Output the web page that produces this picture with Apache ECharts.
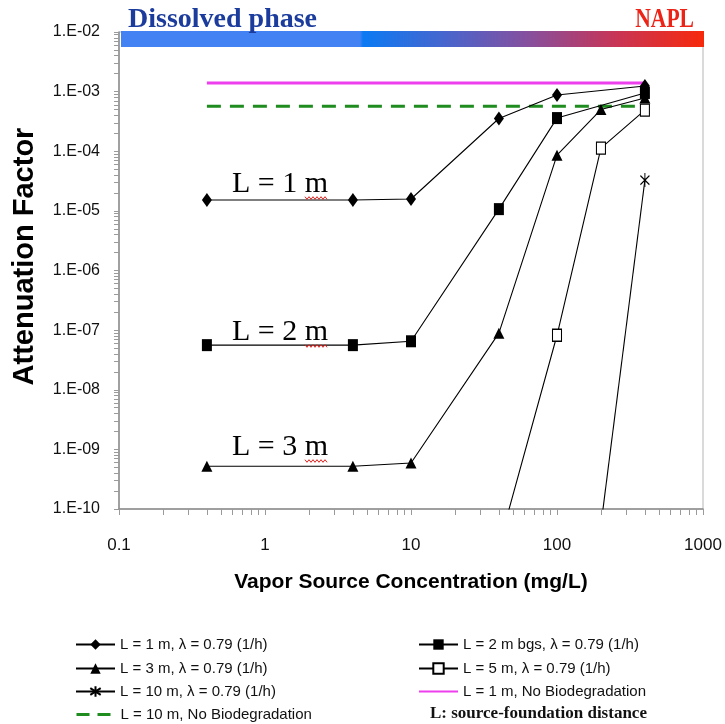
<!DOCTYPE html>
<html><head><meta charset="utf-8">
<script src="https://cdn.jsdelivr.net/npm/echarts@6/dist/echarts.min.js"></script>
<style>html,body{margin:0;padding:0;background:#fff}#c{width:725px;height:724px}</style>
</head><body><div id="c"></div>
<script>
// ---- data ----
const xConc = [0.4, 4, 10, 40, 100, 400];
const afL1 = [1.52e-5, 1.52e-5, 1.58e-5, 3.54e-4, 8.77e-4, 1.24e-3];
const afL2 = [5.6e-8, 5.6e-8, 6.5e-8, 1.07e-5, 3.6e-4, 9.5e-4];
const xConc3 = [0.4, 4, 10, 40, 100, 200, 400];
const afL3 = [5.2e-10, 5.2e-10, 5.9e-10, 8.9e-8, 8.6e-5, 5.0e-4, 7.8e-4];
const xConc5 = [40, 100, 200, 400];
const afL5 = [2.4e-11, 8.2e-8, 1.13e-4, 4.9e-4];
const xConc10 = [200, 400];
const afL10 = [5.4e-11, 3.29e-5];
const xNoBio = [0.4, 400];
const afNoBio1 = [1.39e-3, 1.39e-3];
const afNoBio10 = [5.7e-4, 5.7e-4];
const seriesNames = ['L = 1 m, λ = 0.79 (1/h)', 'L = 2 m bgs, λ = 0.79 (1/h)', 'L = 3 m, λ = 0.79 (1/h)',
  'L = 5 m, λ = 0.79 (1/h)', 'L = 10 m, λ = 0.79 (1/h)', 'L = 1 m, No Biodegradation', 'L = 10 m, No Biodegradation'];
const xTickValues = [0.1, 1, 10, 100, 1000];
const xTickLabels = ['0.1', '1', '10', '100', '1000'];
const yTickValues = [1e-10, 1e-9, 1e-8, 1e-7, 1e-6, 1e-5, 1e-4, 1e-3, 1e-2];
const yTickLabels = ['1.E-10', '1.E-09', '1.E-08', '1.E-07', '1.E-06', '1.E-05', '1.E-04', '1.E-03', '1.E-02'];
const curveLabels = ['L = 1 m', 'L = 2 m', 'L = 3 m'];

// ---- helpers ----
const zip = (xs, ys) => xs.map((x, i) => [x, ys[i]]);
function minorTicks(majors) {
  const out = [];
  majors.forEach((m, i) => {
    if (i === majors.length - 1) { out.push(m); return; }
    for (let k = 1; k < 10; k++) out.push(m * k);
  });
  return out;
}
const serif = '"Liberation Serif","DejaVu Serif",serif';
const sans = '"Liberation Sans",Arial,sans-serif';

const G = { left: 119, right: 22, top: 32, bottom: 215 };
const asterisk = 'path://M5,0 L5,14 M0,2.5 L10,11.5 M10,2.5 L0,11.5';

function blackSeries(name, data, symbol, size, extra) {
  return Object.assign({
    name, type: 'line', data, symbol, symbolSize: size, showSymbol: true,
    lineStyle: { color: '#000', width: 1.1 },
    itemStyle: { color: '#000', borderColor: '#000', borderWidth: 0 },
    z: 5
  }, extra || {});
}

// legend rows: [seriesIndexInNames, left, rowCenterY]
const legendRows = [[0, 75, 643], [2, 75, 667], [4, 75, 690], [6, 75, 713], [1, 418, 643], [3, 418, 667], [5, 418, 690]];
const legends = legendRows.map(([si, left, cy]) => {
  let item = seriesNames[si];
  if (si === 5) item = { name: item, itemStyle: { opacity: 0 } };
  if (si === 6) item = { name: item, itemStyle: { opacity: 0 }, lineStyle: { type: [13, 8], width: 3, color: '#1f8c1f' } };
  return { orient: 'horizontal', left, top: cy - 6, padding: 0, itemWidth: 39, itemHeight: 13, data: [item],
    textStyle: { fontFamily: sans, fontSize: 15, color: '#111' } };
});

const chart = echarts.init(document.getElementById('c'), null, { renderer: 'canvas' });

const squiggle = (x0, x1, y) => {
  const pts = [];
  for (let x = x0, i = 0; x <= x1; x += 2, i++) pts.push([x, y + (i % 2 ? 1.3 : -1.3)]);
  return pts;
};

const labelText = (txt, x, y) => ({ type: 'text', x, y, z: 11, style: { text: txt, font: '30px ' + serif, fill: '#000', textAlign: 'center', textVerticalAlign: 'middle' } });
const squig = (x0, x1, y) => ({ type: 'polyline', z: 11, shape: { points: squiggle(x0, x1, y) }, style: { stroke: '#e0201a', lineWidth: 1, fill: null } });

const option = {
  animation: false,
  backgroundColor: '#fff',
  grid: { left: G.left, right: G.right, top: G.top, bottom: G.bottom, show: true, borderColor: '#b5b5b5', borderWidth: 1, backgroundColor: 'transparent' },
  xAxis: {
    type: 'log', logBase: 10, min: 0.1, max: 1000,
    axisLine: { lineStyle: { color: '#8c8c8c', width: 1.5 } },
    axisTick: { show: true, inside: false, length: 6, lineStyle: { color: '#9a9a9a' }, customValues: minorTicks(xTickValues) },
    axisLabel: { customValues: xTickValues, formatter: v => xTickLabels[xTickValues.findIndex(t => Math.abs(Math.log10(t) - Math.log10(v)) < 1e-6)] ?? '',
      fontFamily: sans, fontSize: 17, color: '#111', margin: 28 },
    splitLine: { show: false },
    name: 'Vapor Source Concentration (mg/L)', nameLocation: 'middle', nameGap: 63,
    nameTextStyle: { fontFamily: sans, fontWeight: 'bold', fontSize: 21, color: '#000' }
  },
  yAxis: {
    type: 'log', logBase: 10, min: 1e-10, max: 1e-2,
    axisLine: { lineStyle: { color: '#8c8c8c', width: 1.5 } },
    axisTick: { show: true, inside: false, length: 5, lineStyle: { color: '#9a9a9a' }, customValues: minorTicks(yTickValues) },
    axisLabel: { customValues: yTickValues, formatter: v => yTickLabels[Math.round(Math.log10(v)) + 10] ?? '',
      fontFamily: sans, fontSize: 16, color: '#111', margin: 19 },
    splitLine: { show: false },
    name: 'Attenuation Factor', nameLocation: 'middle', nameGap: 80, nameRotate: 90,
    nameTextStyle: { fontFamily: sans, fontWeight: 'bold', fontSize: 29, color: '#000', padding: [0, 0, 0, 28] }
  },
  legend: legends,
  series: [
    { name: seriesNames[5], type: 'line', data: zip(xNoBio, afNoBio1), symbol: 'none', lineStyle: { color: '#ee3fee', width: 3 }, itemStyle: { color: '#ee3fee' }, z: 3 },
    { name: seriesNames[6], type: 'line', data: zip(xNoBio, afNoBio10), symbol: 'none', lineStyle: { color: '#1f8c1f', width: 3, type: [14, 9] }, itemStyle: { color: '#1f8c1f' }, z: 3 },
    blackSeries(seriesNames[0], zip(xConc, afL1), 'diamond', [10, 14]),
    blackSeries(seriesNames[1], zip(xConc, afL2), 'rect', [10, 12]),
    blackSeries(seriesNames[2], zip(xConc3, afL3), 'triangle', [11, 11]),
    blackSeries(seriesNames[3], zip(xConc5, afL5), 'rect', [9, 12], { itemStyle: { color: '#fff', borderColor: '#000', borderWidth: 1.2 } }),
    blackSeries(seriesNames[4], zip(xConc10, afL10), asterisk, [9, 14], { itemStyle: { color: '#000', borderColor: '#000', borderWidth: 1.2 } })
  ],
  graphic: [
    { type: 'rect', left: 121, top: 31, shape: { width: 583, height: 16 }, z: 10,
      style: { fill: new echarts.graphic.LinearGradient(0, 0, 1, 0, [
        { offset: 0, color: '#4282f3' }, { offset: 0.41, color: '#4282f3' }, { offset: 0.415, color: '#0b7af3' },
        { offset: 0.55, color: '#4566cf' }, { offset: 0.7, color: '#874f9d' }, { offset: 0.85, color: '#c83555' }, { offset: 1, color: '#f7290c' }]) } },
    { type: 'text', x: 128, y: 20, z: 11, style: { text: 'Dissolved phase', font: 'bold 28px ' + serif, fill: '#1b3c9c', textVerticalAlign: 'middle' } },
    { type: 'text', x: 694, y: 20, z: 11, scaleX: 0.8, style: { text: 'NAPL', font: 'bold 27px ' + serif, fill: '#ec2418', textAlign: 'right', textVerticalAlign: 'middle' } },
    labelText(curveLabels[0], 280, 184),
    labelText(curveLabels[1], 280, 332),
    labelText(curveLabels[2], 280, 447),
    squig(305, 327, 198),
    squig(305, 327, 346),
    squig(305, 327, 461),
    { type: 'text', x: 430, y: 714, z: 11, style: { text: 'L: source-foundation distance', font: 'bold 17px ' + serif, fill: '#111', textVerticalAlign: 'middle' } }
  ]
};
chart.setOption(option);
</script>
</body></html>
